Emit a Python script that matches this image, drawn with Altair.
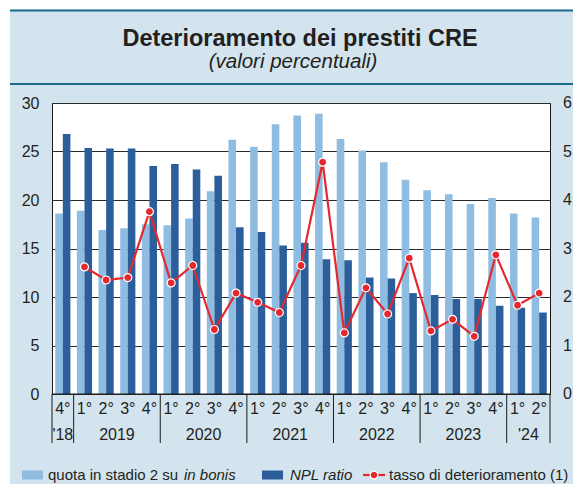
import altair as alt
import pandas as pd

# ---------------- data ----------------
quarters = ["4°"] + ["1°", "2°", "3°", "4°"] * 5 + ["1°", "2°"]
years = ["'18", "2019", "2020", "2021", "2022", "2023", "'24"]
quarters_per_year = [1, 4, 4, 4, 4, 4, 2]

stage2_share = [18.6, 18.9, 16.9, 17.1, 17.5, 17.4, 18.1, 20.9, 26.2, 25.5, 27.8, 28.7,
                28.9, 26.3, 25.1, 23.9, 22.1, 21.0, 20.6, 19.6, 20.2, 18.6, 18.2]
npl_ratio = [26.8, 25.35, 25.3, 25.3, 23.5, 23.7, 23.15, 22.5, 17.2, 16.7, 15.3, 15.6,
             13.9, 13.8, 12.0, 11.9, 10.4, 10.2, 9.8, 9.8, 9.1, 8.9, 8.4]
default_rate = [None, 2.62, 2.35, 2.40, 3.76, 2.29, 2.65, 1.33, 2.08, 1.89, 1.68, 2.65,
                4.78, 1.26, 2.19, 1.65, 2.80, 1.30, 1.54, 1.19, 2.87, 1.83, 2.08]

left_ticks = [0, 5, 10, 15, 20, 25, 30]
right_ticks = [0, 1, 2, 3, 4, 5, 6]

# ---------------- styling ----------------
LIGHT = "#8fbde2"
DARK = "#2c5e9c"
RED = "#e4292e"
BG = "#d3e4ee"
TEAL = "#1c6a8e"
INK = "#231f20"
FONT = "Liberation Sans"

N = len(quarters)
W, H = 498, 291

df = pd.DataFrame({
    "idx": list(range(N)),
    "q": quarters,
    "light": stage2_share,
    "dark": npl_ratio,
    "rate": default_rate,
})

bounds = [-0.5]
for c in quarters_per_year:
    bounds.append(bounds[-1] + c)
year_df = pd.DataFrame({
    "year": years,
    "pos": [(bounds[i] + bounds[i + 1]) / 2 for i in range(len(years))],
})
sep_df = pd.DataFrame({"pos": bounds})
rt_df = pd.DataFrame({"v": right_ticks})
one = pd.DataFrame({"a": [0]})

band = alt.Scale(type="band", domain=list(range(N)), paddingInner=0.3, paddingOuter=0.15)
lin = alt.Scale(domain=[-0.5, N - 0.5], nice=False, zero=False)
xband = alt.X("idx:O", scale=band, axis=None)
rscale = alt.Scale(domain=[0, 6], nice=False)

# ---------------- decorations (header) ----------------
white_top = alt.Chart(one).mark_rect(color="white").encode(
    x=alt.value(-44), x2=alt.value(521), y=alt.value(-95), y2=alt.value(-93.5))
white_left = alt.Chart(one).mark_rect(color="white").encode(
    x=alt.value(-44), x2=alt.value(-42), y=alt.value(-95), y2=alt.value(385))
line_top = alt.Chart(one).mark_rule(color=TEAL, strokeWidth=2).encode(
    x=alt.value(-42), x2=alt.value(521), y=alt.value(-92.5))
line_mid = alt.Chart(one).mark_rule(color=TEAL, strokeWidth=2).encode(
    x=alt.value(-42), x2=alt.value(521), y=alt.value(-19))
title = alt.Chart(one).mark_text(fontSize=23.5, fontWeight="bold", color=INK,
                                 align="center", baseline="alphabetic").encode(
    x=alt.value(248), y=alt.value(-57), text=alt.value("Deterioramento dei prestiti CRE"))
subtitle = alt.Chart(one).mark_text(fontSize=20.5, fontStyle="italic", color=INK,
                                    align="center", baseline="alphabetic").encode(
    x=alt.value(241), y=alt.value(-35), text=alt.value("(valori percentuali)"))

# ---------------- data marks ----------------
bars = alt.Chart(df).transform_fold(["light", "dark"], as_=["series", "value"]).mark_bar().encode(
    x=xband,
    xOffset=alt.XOffset("series:N", scale=alt.Scale(domain=["light", "dark"],
                                                    paddingInner=0, paddingOuter=0)),
    y=alt.Y("value:Q", scale=alt.Scale(domain=[0, 30], nice=False),
            axis=alt.Axis(values=left_ticks, grid=True, gridColor="#2a2a2a", gridWidth=1,
                          domain=False, ticks=False, tickSize=0, labelPadding=13,
                          labelFontSize=16, labelColor=INK, labelFont=FONT, title=None)),
    color=alt.Color("series:N", scale=alt.Scale(domain=["light", "dark"], range=[LIGHT, DARK]),
                    legend=None),
)

rate_line = alt.Chart(df).mark_line(color=RED, strokeWidth=2.2).encode(
    x=xband,
    y=alt.Y("rate:Q", scale=rscale, axis=None),
)
rate_pts = alt.Chart(df).mark_circle(color=RED, stroke="white", strokeWidth=1.2,
                                     size=64, opacity=1).encode(
    x=xband,
    y=alt.Y("rate:Q", scale=rscale, axis=None),
)
right_labels = alt.Chart(rt_df).mark_text(fontSize=16, color=INK, align="left",
                                          baseline="middle").encode(
    x=alt.value(W + 13),
    y=alt.Y("v:Q", scale=rscale, axis=None),
    text="v:Q",
)

bottom_line = alt.Chart(one).mark_rule(color="#1a1a1a", strokeWidth=1).encode(
    x=alt.value(0), x2=alt.value(W), y=alt.value(H))

# ---------------- category axis ----------------
q_labels = alt.Chart(df).mark_text(fontSize=16, color=INK, align="center",
                                   baseline="alphabetic").encode(
    x=xband, y=alt.value(310.5), text="q:N")
separators = alt.Chart(sep_df).mark_rule(color="#1a1a1a", strokeWidth=1).encode(
    x=alt.X("pos:Q", scale=lin, axis=None), y=alt.value(H), y2=alt.value(340))
y_labels = alt.Chart(year_df).mark_text(fontSize=16, color=INK, align="center",
                                        baseline="alphabetic").encode(
    x=alt.X("pos:Q", scale=lin, axis=None), y=alt.value(337), text="year:N")

# ---------------- legend ----------------
LY = 372
leg = [
    alt.Chart(one).mark_rect(color=LIGHT).encode(
        x=alt.value(-30), x2=alt.value(-9), y=alt.value(LY - 4.5), y2=alt.value(LY + 4.5)),
    alt.Chart(one).mark_text(fontSize=15, color=INK, align="left", baseline="middle").encode(
        x=alt.value(-4), y=alt.value(LY), text=alt.value("quota in stadio 2 su")),
    alt.Chart(one).mark_text(fontSize=15, color=INK, align="left", baseline="middle",
                             fontStyle="italic").encode(
        x=alt.value(132), y=alt.value(LY), text=alt.value("in bonis")),
    alt.Chart(one).mark_rect(color=DARK).encode(
        x=alt.value(210), x2=alt.value(231), y=alt.value(LY - 4.5), y2=alt.value(LY + 4.5)),
    alt.Chart(one).mark_text(fontSize=15, color=INK, align="left", baseline="middle",
                             fontStyle="italic").encode(
        x=alt.value(238), y=alt.value(LY), text=alt.value("NPL ratio")),
    alt.Chart(one).mark_rule(color=RED, strokeWidth=2.2).encode(
        x=alt.value(311), x2=alt.value(333), y=alt.value(LY)),
    alt.Chart(one).mark_circle(color=RED, stroke="white", strokeWidth=1.2, size=60,
                               opacity=1).encode(x=alt.value(322), y=alt.value(LY)),
    alt.Chart(one).mark_text(fontSize=15, color=INK, align="left", baseline="middle").encode(
        x=alt.value(337), y=alt.value(LY), text=alt.value("tasso di deterioramento (1)")),
]

chart = alt.layer(
    white_top, white_left, line_top, line_mid, title, subtitle,
    bars, rate_line, rate_pts, right_labels, bottom_line,
    q_labels, separators, y_labels, *leg,
).resolve_scale(
    x="independent", y="independent"
).properties(
    width=W, height=H,
    autosize=alt.AutoSizeParams(type="none"),
    padding={"left": 44, "top": 95, "right": 23, "bottom": 90},
    background=BG,
).configure(
    font=FONT,
).configure_view(
    fill="white", stroke="#1a1a1a", strokeWidth=1,
)

chart.save("out.html", embed_options={"renderer": "svg", "actions": False})
